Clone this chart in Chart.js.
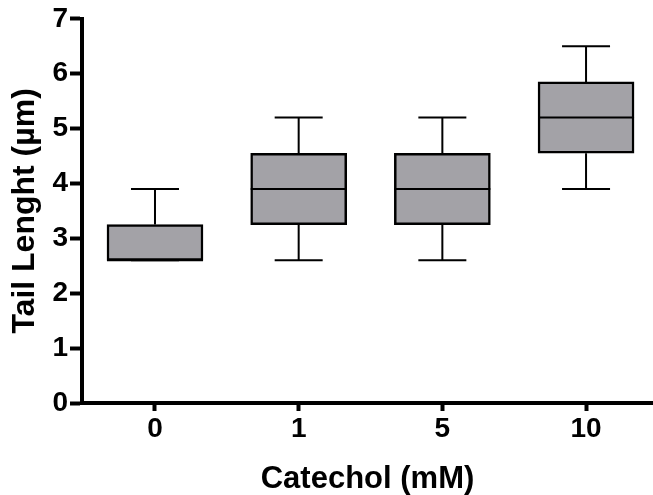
<!DOCTYPE html>
<html>
<head>
<meta charset="utf-8">
<script src="https://cdn.jsdelivr.net/npm/chart.js@4"></script>
<style>
  html, body { margin: 0; padding: 0; background: #ffffff; }
  #wrap { width: 653px; height: 495px; }
</style>
</head>
<body>
<div id="wrap"><canvas id="c" width="653" height="495"></canvas></div>
<script>
// ---- data ----
const categories = ['0', '1', '5', '10'];
const whiskerMin = [2.6, 2.6, 2.6, 3.9];
const q1 = [2.6, 3.25, 3.25, 4.55];
const median = [2.6, 3.9, 3.9, 5.2];
const q3 = [3.25, 4.55, 4.55, 5.85];
const whiskerMax = [3.9, 5.2, 5.2, 6.5];
const yTicks = [0, 1, 2, 3, 4, 5, 6, 7];
const xTitle = 'Catechol (mM)';
const yTitle = 'Tail Lenght (\u00b5m)';

const FONT = 'Liberation Sans, Arial, Helvetica, sans-serif';

const boxPlugin = {
  id: 'boxWhiskers',
  afterDatasetsDraw(chart) {
    const meta = chart.getDatasetMeta(0);
    const y = chart.scales.y;
    const ctx = chart.ctx;
    ctx.save();
    ctx.strokeStyle = '#000000';
    ctx.lineCap = 'butt';
    meta.data.forEach((bar, i) => {
      const props = bar.getProps(['x', 'width'], true);
      const cx = props.x;
      const half = props.width / 2;
      const capHalf = props.width / 4;
      const yMed = y.getPixelForValue(median[i]);
      const yQ1 = y.getPixelForValue(q1[i]);
      const yQ3 = y.getPixelForValue(q3[i]);
      const yMin = y.getPixelForValue(whiskerMin[i]);
      const yMax = y.getPixelForValue(whiskerMax[i]);
      ctx.lineWidth = 2;
      ctx.beginPath();
      ctx.moveTo(cx - half, yMed);
      ctx.lineTo(cx + half, yMed);
      ctx.stroke();
      ctx.beginPath();
      ctx.moveTo(cx, yQ3);
      ctx.lineTo(cx, yMax);
      ctx.moveTo(cx - capHalf, yMax);
      ctx.lineTo(cx + capHalf, yMax);
      ctx.moveTo(cx, yQ1);
      ctx.lineTo(cx, yMin);
      ctx.moveTo(cx - capHalf, yMin);
      ctx.lineTo(cx + capHalf, yMin);
      ctx.stroke();
    });
    ctx.restore();
  }
};

new Chart(document.getElementById('c'), {
  type: 'bar',
  data: {
    datasets: [{
      data: categories.map((c, i) => ({ x: i, y: [q1[i], q3[i]] })),
      backgroundColor: '#a3a2a7',
      borderColor: '#000000',
      borderWidth: 2.5,
      borderSkipped: false,
      barThickness: 96
    }]
  },
  options: {
    responsive: false,
    animation: false,
    devicePixelRatio: 1,
    layout: { padding: { top: 17, right: 0, bottom: 0, left: 0 } },
    plugins: { legend: { display: false }, tooltip: { enabled: false } },
    scales: {
      x: {
        type: 'linear',
        offset: false,
        min: -0.508,
        max: 3.466,
        afterBuildTicks: (axis) => { axis.ticks = categories.map((c, i) => ({ value: i })); },
        afterFit: (s) => { s.height = 92; },
        grid: { display: true, offset: false, drawOnChartArea: false, drawTicks: true, tickLength: 8, tickWidth: 4, tickColor: '#000000' },
        border: { display: true, color: '#000000', width: 4 },
        ticks: {
          autoSkip: false,
          maxRotation: 0,
          padding: 1,
          color: '#000000',
          font: { family: FONT, size: 28, weight: 'bold' },
          callback: (v) => categories[v]
        },
        title: {
          display: true,
          text: xTitle,
          color: '#000000',
          font: { family: FONT, size: 31, weight: 'bold', lineHeight: 1.0 },
          padding: { top: 0, bottom: 0 }
        }
      },
      y: {
        min: 0,
        max: 7,
        afterBuildTicks: (axis) => { axis.ticks = yTicks.map(v => ({ value: v })); },
        afterFit: (s) => { s.width = 82; },
        grid: { display: true, drawOnChartArea: false, drawTicks: true, tickLength: 12, tickWidth: 4, tickColor: '#000000' },
        border: { display: true, color: '#000000', width: 4 },
        ticks: {
          padding: 2,
          color: '#000000',
          font: { family: FONT, size: 28, weight: 'bold' },
          callback: (v) => String(v)
        },
        title: {
          display: true,
          text: yTitle,
          color: '#000000',
          font: { family: FONT, size: 32, weight: 'bold' },
          padding: { top: 6, bottom: 0 }
        }
      }
    }
  },
  plugins: [boxPlugin]
});
</script>
</body>
</html>
